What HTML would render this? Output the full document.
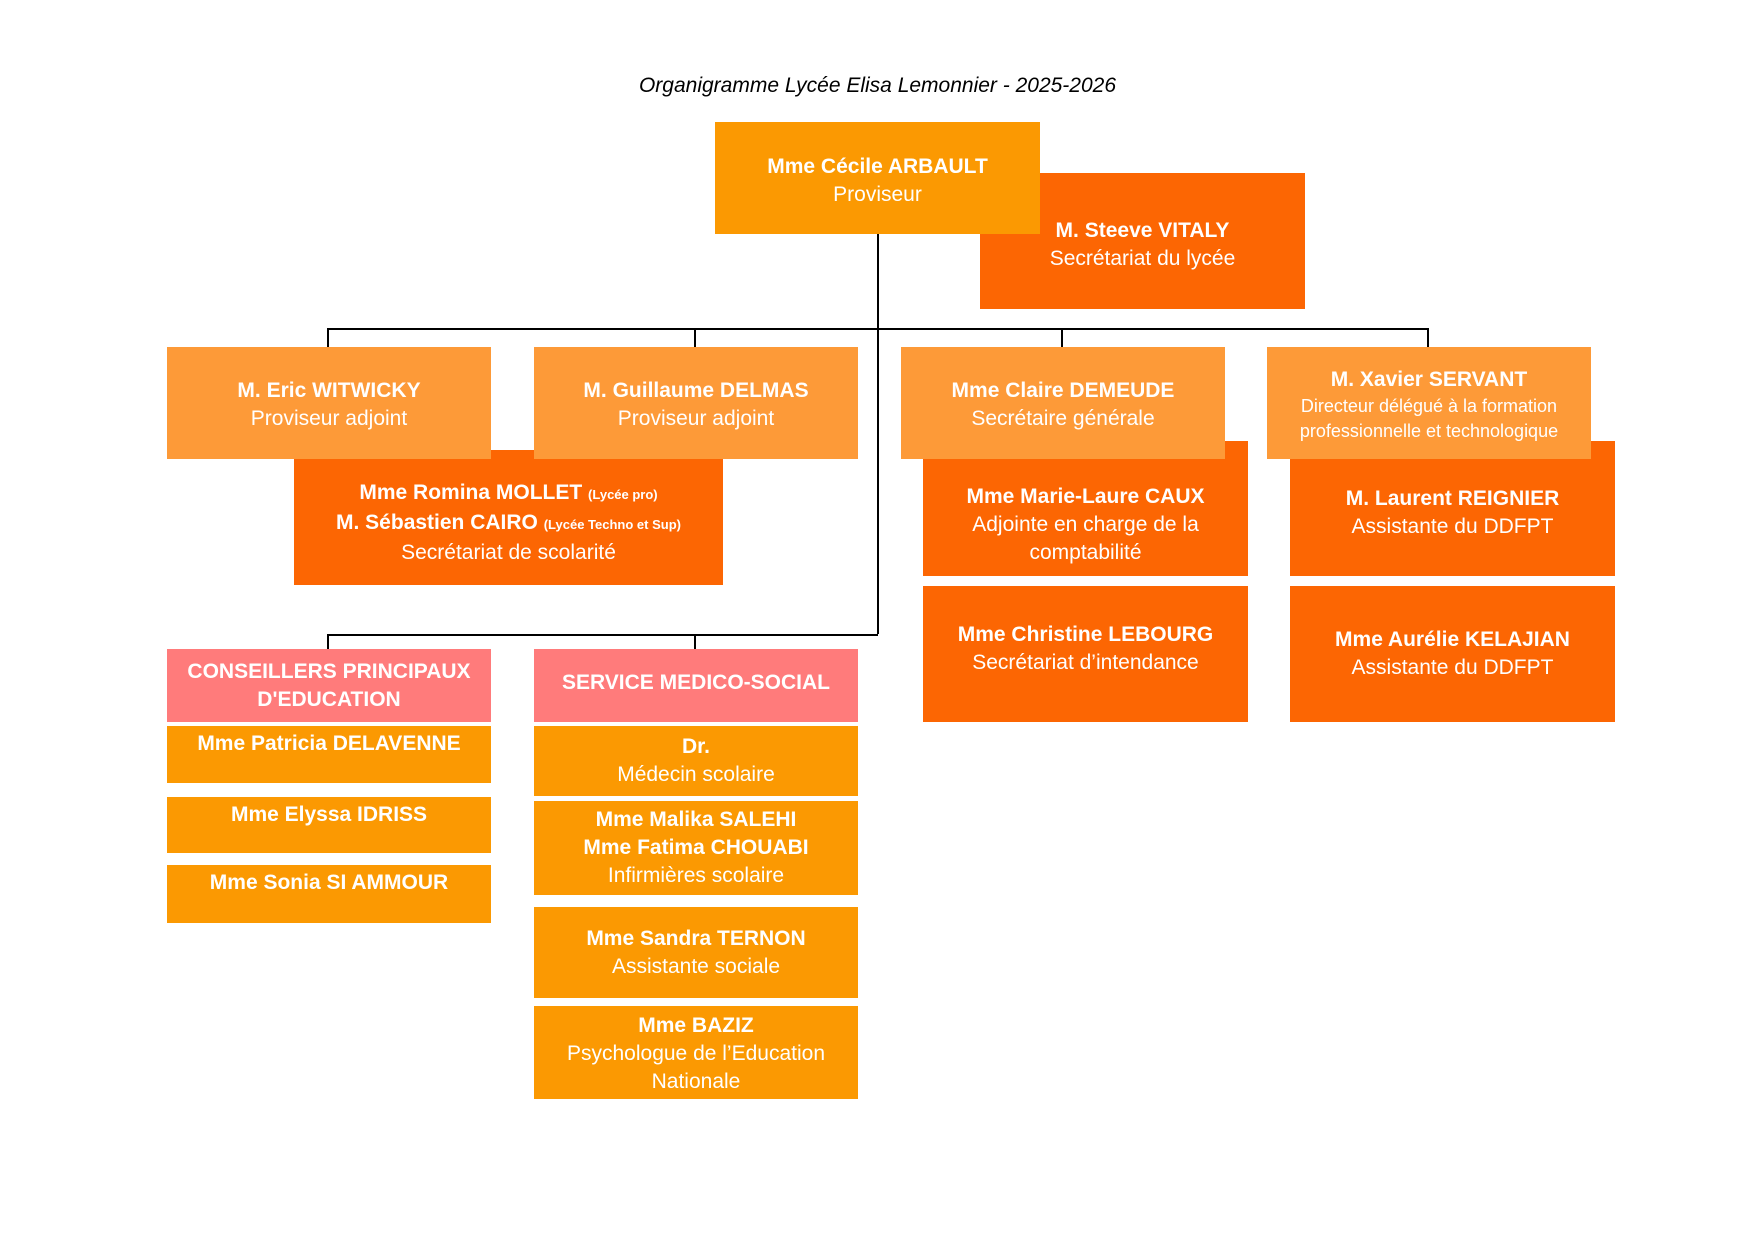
<!DOCTYPE html>
<html><head><meta charset="utf-8"><style>
body{margin:0;width:1755px;height:1241px;background:#fff;position:relative;font-family:"Liberation Sans",sans-serif;overflow:hidden}
.b{position:absolute;display:flex;flex-direction:column;justify-content:center;align-items:center;text-align:center;color:#fff;font-size:21px;line-height:28px;box-sizing:border-box;padding-top:4px}
.b b{font-weight:bold}
.o1{background:#FB9902}.o2{background:#FC6603}.o3{background:#FD9A38}.p{background:#FF7B7B}
.l{position:absolute;background:#000}
.top{justify-content:flex-start;padding-top:6px}
small{font-size:13px;font-weight:bold}
</style></head><body>
<div style="position:absolute;left:0;width:1755px;top:74px;text-align:center;font-style:italic;font-size:21px">Organigramme Lycée Elisa Lemonnier - 2025-2026</div>
<div class="l" style="left:877px;top:234px;width:1.5px;height:400px"></div>
<div class="l" style="left:327px;top:328px;width:1101px;height:1.5px"></div>
<div class="l" style="left:327px;top:328px;width:1.5px;height:20px"></div>
<div class="l" style="left:694px;top:328px;width:1.5px;height:20px"></div>
<div class="l" style="left:1061px;top:328px;width:1.5px;height:20px"></div>
<div class="l" style="left:1427px;top:328px;width:1.5px;height:20px"></div>
<div class="l" style="left:327px;top:634px;width:551px;height:1.5px"></div>
<div class="l" style="left:327px;top:634px;width:1.5px;height:15px"></div>
<div class="l" style="left:694px;top:634px;width:1.5px;height:15px"></div>

<div class="b o2" style="left:980px;top:173px;width:325px;height:136px;padding-top:8px"><b>M. Steeve VITALY</b>Secrétariat du lycée</div>
<div class="b o1" style="left:715px;top:122px;width:325px;height:112px;padding-top:6px"><b>Mme Cécile ARBAULT</b>Proviseur</div>

<div class="b o2" style="left:294px;top:450px;width:429px;height:135px;padding-top:10px"><b>Mme Romina MOLLET <small>(Lycée pro)</small></b><b>M. Sébastien CAIRO <small>(Lycée Techno et Sup)</small></b>Secrétariat de scolarité</div>
<div class="b o2" style="left:923px;top:441px;width:325px;height:135px;padding-top:32px"><b>Mme Marie-Laure CAUX</b>Adjointe en charge de la<br>comptabilité</div>
<div class="b o2" style="left:1290px;top:441px;width:325px;height:135px;justify-content:flex-start;padding-top:44px"><b>M. Laurent REIGNIER</b>Assistante du DDFPT</div>
<div class="b o2" style="left:923px;top:586px;width:325px;height:136px;padding-bottom:14px"><b>Mme Christine LEBOURG</b>Secrétariat d’intendance</div>
<div class="b o2" style="left:1290px;top:586px;width:325px;height:136px;padding-bottom:4px"><b>Mme Aurélie KELAJIAN</b>Assistante du DDFPT</div>

<div class="b o3" style="left:167px;top:347px;width:324px;height:112px"><b>M. Eric WITWICKY</b>Proviseur adjoint</div>
<div class="b o3" style="left:534px;top:347px;width:324px;height:112px"><b>M. Guillaume DELMAS</b>Proviseur adjoint</div>
<div class="b o3" style="left:901px;top:347px;width:324px;height:112px"><b>Mme Claire DEMEUDE</b>Secrétaire générale</div>
<div class="b o3" style="left:1267px;top:347px;width:324px;height:112px;font-size:18px;line-height:25px;padding-top:4px"><b style="font-size:21px;line-height:28px">M. Xavier SERVANT</b>Directeur délégué à la formation<br>professionnelle et technologique</div>

<div class="b p" style="left:167px;top:649px;width:324px;height:73px;padding-top:0"><b>CONSEILLERS PRINCIPAUX<br>D'EDUCATION</b></div>
<div class="b p" style="left:534px;top:649px;width:324px;height:73px;padding-top:0;padding-bottom:6px"><b>SERVICE MEDICO-SOCIAL</b></div>
<div class="b o1 top" style="left:167px;top:726px;width:324px;height:57px;padding-top:4px"><b>Mme Patricia DELAVENNE</b></div>
<div class="b o1 top" style="left:167px;top:797px;width:324px;height:56px;padding-top:4px"><b>Mme Elyssa IDRISS</b></div>
<div class="b o1 top" style="left:167px;top:865px;width:324px;height:58px;padding-top:4px"><b>Mme Sonia SI AMMOUR</b></div>
<div class="b o1" style="left:534px;top:726px;width:324px;height:70px;padding-top:0"><b>Dr.</b>Médecin scolaire</div>
<div class="b o1" style="left:534px;top:801px;width:324px;height:94px;padding-top:0"><b>Mme Malika SALEHI</b><b>Mme Fatima CHOUABI</b>Infirmières scolaire</div>
<div class="b o1" style="left:534px;top:907px;width:324px;height:91px;padding-top:0"><b>Mme Sandra TERNON</b>Assistante sociale</div>
<div class="b o1" style="left:534px;top:1006px;width:324px;height:93px;padding-top:2px"><b>Mme BAZIZ</b>Psychologue de l’Education<br>Nationale</div>
</body></html>
